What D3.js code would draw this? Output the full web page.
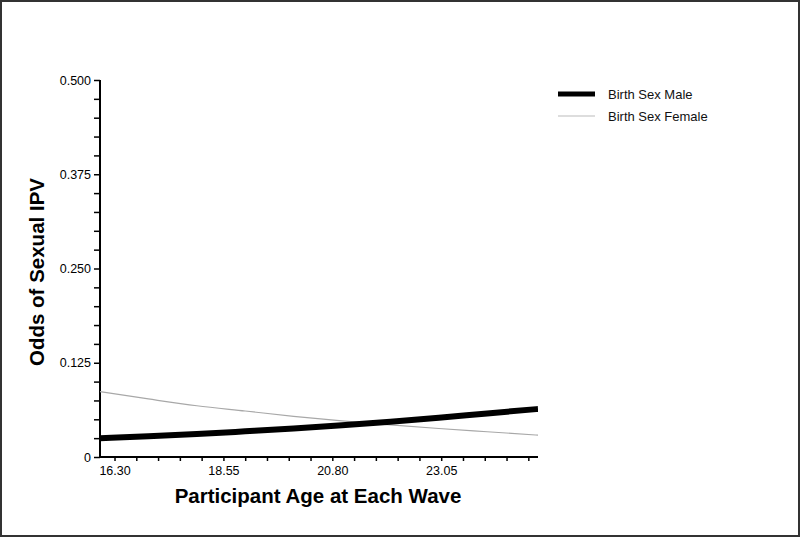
<!DOCTYPE html>
<html>
<head>
<meta charset="utf-8">
<script src="https://cdn.jsdelivr.net/npm/d3@7"></script>
<style>
  body { margin: 0; background: #fff; }
  svg { display: block; font-family: "Liberation Sans", Arial, sans-serif; }
</style>
</head>
<body>
<script>
// data
var ages = [16.0, 17.0, 18.0, 19.0, 20.0, 21.0, 22.0, 23.0, 24.0, 25.05];
var male = [0.0248, 0.0275, 0.0305, 0.034, 0.0377, 0.042, 0.0467, 0.052, 0.0578, 0.0637];
var female = [0.0866, 0.077, 0.068, 0.061, 0.054, 0.048, 0.0425, 0.0378, 0.0335, 0.029];
var xTickLabels = ["16.30", "18.55", "20.80", "23.05"];
var yTickLabels = ["0", "0.125", "0.250", "0.375", "0.500"];
var seriesNames = ["Birth Sex Male", "Birth Sex Female"];

var width = 800, height = 537;
var margin = {top: 80, left: 100, right: 262, bottom: 80};

var svg = d3.select("body").append("svg")
    .attr("width", width)
    .attr("height", height);

// outer frame
svg.append("rect")
    .attr("x", 1).attr("y", 1)
    .attr("width", width - 2).attr("height", height - 2)
    .attr("fill", "#fff")
    .attr("stroke", "#333")
    .attr("stroke-width", 2);

var x = d3.scaleLinear()
    .domain([16.0, 25.05])
    .range([margin.left, width - margin.right]);

var y = d3.scaleLinear()
    .domain([0, 0.5])
    .range([height - margin.bottom, margin.top]);

// minor ticks
var xMinor = d3.range(0, 20).map(function(i) { return 16.30 + i * 0.45; });
var yMinor = d3.range(0, 21).map(function(i) { return i * 0.025; });

var xAxis = svg.append("g")
    .attr("transform", "translate(0," + y(0) + ")")
    .call(d3.axisBottom(x)
        .tickValues(xMinor)
        .tickSize(4)
        .tickFormat(function(d) {
            var s = d.toFixed(2);
            return xTickLabels.indexOf(s) >= 0 ? s : "";
        }));

var yAxis = svg.append("g")
    .attr("transform", "translate(" + x.range()[0] + ",0)")
    .call(d3.axisLeft(y)
        .tickValues(yMinor)
        .tickSize(6)
        .tickFormat(function(d) {
            var s = d === 0 ? "0" : d.toFixed(3);
            return yTickLabels.indexOf(s) >= 0 ? s : "";
        }));

[xAxis, yAxis].forEach(function(a) {
    a.select(".domain").attr("stroke", "#000").attr("stroke-width", 2);
    a.selectAll(".tick line").attr("stroke", "#000").attr("stroke-width", 1.5);
    a.selectAll(".tick text").attr("fill", "#000").style("font-size", "12.5px");
});
xAxis.select(".domain").attr("d", "M" + x.range()[0] + ",0H" + x.range()[1]);
yAxis.select(".domain").attr("d", "M0," + y.range()[0] + "V" + y.range()[1]);
xAxis.selectAll(".tick text").attr("dy", "0.9em");

// clip to plot
svg.append("clipPath").attr("id", "plot")
    .append("rect")
    .attr("x", x.range()[0]).attr("y", y.range()[1])
    .attr("width", x.range()[1] - x.range()[0])
    .attr("height", y.range()[0] - y.range()[1]);

var line = d3.line()
    .x(function(d) { return x(d[0]); })
    .y(function(d) { return y(d[1]); })
    .curve(d3.curveMonotoneX);

svg.append("path")
    .datum(d3.zip(ages, female))
    .attr("clip-path", "url(#plot)")
    .attr("fill", "none")
    .attr("stroke", "#a8a8a8")
    .attr("stroke-width", 1.2)
    .attr("d", line);

svg.append("path")
    .datum(d3.zip(ages, male))
    .attr("clip-path", "url(#plot)")
    .attr("fill", "none")
    .attr("stroke", "#000")
    .attr("stroke-width", 6)
    .attr("d", line);

// axis titles
svg.append("text")
    .attr("x", 318).attr("y", 503)
    .attr("text-anchor", "middle")
    .style("font-size", "20.5px").style("font-weight", "bold")
    .text("Participant Age at Each Wave");

svg.append("text")
    .attr("transform", "translate(44,272) rotate(-90)")
    .attr("text-anchor", "middle")
    .style("font-size", "20.5px").style("font-weight", "bold")
    .text("Odds of Sexual IPV");

// legend
var legend = svg.append("g");
seriesNames.forEach(function(name, i) {
    var ly = 94 + i * 22;
    legend.append("line")
        .attr("x1", 558).attr("x2", 595)
        .attr("y1", ly).attr("y2", ly)
        .attr("stroke", i === 0 ? "#000" : "#bbb")
        .attr("stroke-width", i === 0 ? 5 : 1.2);
    legend.append("text")
        .attr("x", 608).attr("y", ly)
        .attr("dy", "0.35em")
        .style("font-size", "13px")
        .attr("fill", "#111")
        .text(name);
});
</script>
</body>
</html>
